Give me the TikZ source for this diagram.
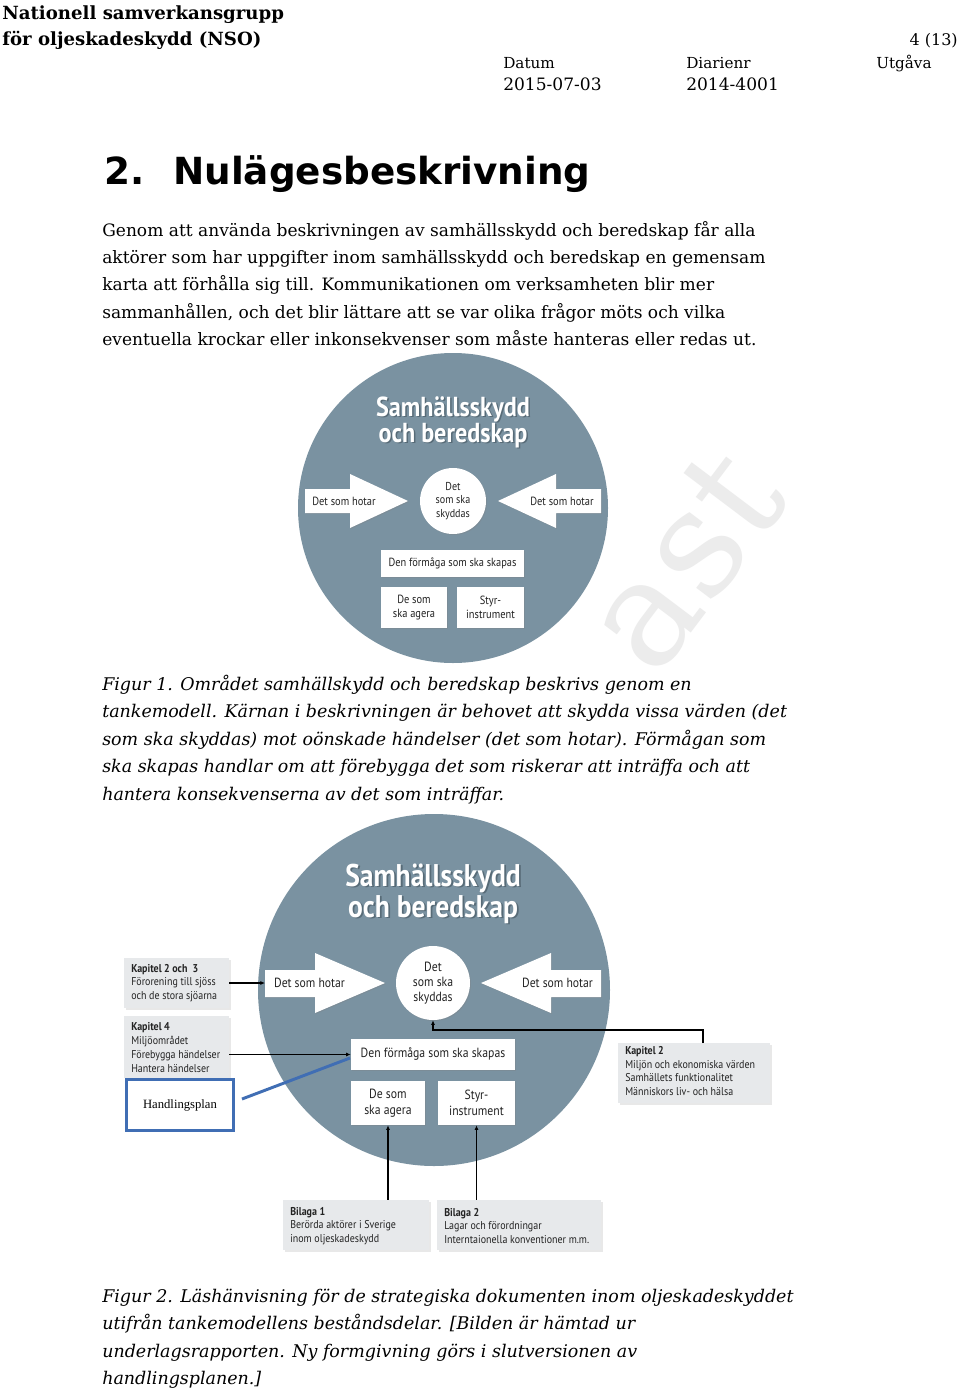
\documentclass[tikz,border=0pt]{standalone}
\usepackage{fontspec}
\setmainfont{DejaVu Serif}
\newfontfamily\hfont{DejaVu Sans}
\newfontfamily\ffont{PT Sans}[FakeStretch=0.88]
\newfontfamily\tfont{Liberation Serif}
\usetikzlibrary{shadows,arrows.meta}
\definecolor{disc}{RGB}{122,146,161}
\definecolor{boxg}{RGB}{231,233,235}
\definecolor{hpblue}{RGB}{64,110,180}
\definecolor{wmark}{RGB}{236,236,236}
\definecolor{ftext}{RGB}{35,35,35}
\definecolor{tshadow}{RGB}{60,75,85}
\newcommand\myfs[2]{\fontsize{#1}{#2}\selectfont}
\begin{document}
\begin{tikzpicture}[x=0.75pt,y=-0.75pt,
  txt/.style={inner sep=0pt,anchor=base west,font=\myfs{12.8}{15}},
  captxt/.style={inner sep=0pt,anchor=base west,font=\myfs{13.1}{15}\itshape},
  wbox/.style={fill=white,inner sep=0pt,align=center,text=ftext,
     drop shadow={shadow xshift=0.7pt,shadow yshift=-0.7pt,opacity=0.3}},
  gbox/.style={fill=boxg,inner sep=0pt,
     drop shadow={shadow xshift=1.2pt,shadow yshift=-1.2pt,opacity=0.18}},
  gtext/.style={inner sep=0pt,anchor=west,align=left,text=ftext,font=\ffont\myfs{8.5}{10.3}},
  blockarrow/.style={fill=white,drop shadow={shadow xshift=0.7pt,shadow yshift=-0.7pt,opacity=0.3}},
  flab/.style={inner sep=0pt,text=ftext},
  conn/.style={draw=black,line width=0.9pt,-{Latex[length=3.5pt,width=3pt]}},
  ttl/.style={inner sep=0pt,anchor=base,text=white},
  ttlsh/.style={inner sep=0pt,anchor=base,text=tshadow,opacity=0.55},
  wmk/.style={inner sep=0pt,text=wmark,rotate=53,font=\myfs{112}{112}},
  disk/.style={circle,fill=disc,inner sep=0pt},
  smallc/.style={circle,fill=white,inner sep=0pt,align=center,text=ftext,
     drop shadow={shadow xshift=0.7pt,shadow yshift=-0.7pt,opacity=0.3}},
]
\fill[white] (0,0) rectangle (960,1391);
\useasboundingbox (0,0) rectangle (960,1391);
% watermark
\node[wmk] (wm) at (684,560) {ast};
% header
\node[txt,font=\myfs{13.6}{16}\bfseries] (h1) at (2,20) {Nationell samverkansgrupp};
\node[txt,font=\myfs{13.6}{16}\bfseries] (h2) at (2,46) {för oljeskadeskydd (NSO)};
\node[txt,anchor=base east,font=\myfs{12}{14}] (pg) at (958,46) {4 (13)};
\node[txt,font=\myfs{11.4}{14}] (d1) at (503,69) {Datum};
\node[txt,font=\myfs{11.4}{14}] (d2) at (686,69) {Diarienr};
\node[txt,font=\myfs{11.4}{14}] (d3) at (876,69) {Utgåva};
\node[txt,font=\myfs{12.8}{14}] (v1) at (503,91) {2015-07-03};
\node[txt,font=\myfs{12.8}{14}] (v2) at (686,91) {2014-4001};
% heading
\node[txt,font=\hfont\bfseries\myfs{28}{32}] (hn) at (104,185) {2.};
\node[txt,font=\hfont\bfseries\myfs{28}{32}] (ht) at (173,185) {Nulägesbeskrivning};
% body
\node[txt] (b1) at (102,236) {Genom att använda beskrivningen av samhällsskydd och beredskap får alla};
\node[txt] (b2) at (102,263) {aktörer som har uppgifter inom samhällsskydd och beredskap en gemensam};
\node[txt] (b3) at (102,290) {karta att förhålla sig till. Kommunikationen om verksamheten blir mer};
\node[txt] (b4) at (102,318) {sammanhållen, och det blir lättare att se var olika frågor möts och vilka};
\node[txt] (b5) at (102,345) {eventuella krockar eller inkonsekvenser som måste hanteras eller redas ut.};

% ---------- Figure 1 ----------
\node[disk,minimum size=232.5pt] (disc1) at (453,508) {};
\node[ttlsh,font=\ffont\bfseries\myfs{20.6}{23}] (t1as) at (454.5,417.5) {Samhällsskydd};
\node[ttlsh,font=\ffont\bfseries\myfs{20.6}{23}] (t1bs) at (454.5,443.5) {och beredskap};
\node[ttl,font=\ffont\bfseries\myfs{20.6}{23}] (t1a) at (453,416) {Samhällsskydd};
\node[ttl,font=\ffont\bfseries\myfs{20.6}{23}] (t1b) at (453,442) {och beredskap};
\fill[blockarrow] (305,489) -- (350,489) -- (350,474) -- (408,501) -- (350,528) -- (350,513) -- (305,513) -- cycle;
\fill[blockarrow] (601,489) -- (556,489) -- (556,474) -- (498,501) -- (556,528) -- (556,513) -- (601,513) -- cycle;
\node[flab,font=\ffont\myfs{8.9}{10}] (la1) at (344,501) {Det som hotar};
\node[flab,font=\ffont\myfs{8.9}{10}] (ra1) at (562,501) {Det som hotar};
\node[smallc,minimum size=49.5pt,font=\ffont\myfs{8.6}{10}] (sk1) at (453,501) {Det\\som ska\\skyddas};
\node[wbox,minimum width=107.25pt,minimum height=20.25pt,font=\ffont\myfs{8.85}{10}] (fo1) at (452.5,563.5) {Den förmåga som ska skapas};
\node[wbox,minimum width=49.5pt,minimum height=30.75pt,font=\ffont\myfs{8.9}{10.5}] (ag1) at (414,607.5) {De som\\ska agera};
\node[wbox,minimum width=50.25pt,minimum height=30.75pt,font=\ffont\myfs{8.9}{10.5}] (st1) at (490.5,607.5) {Styr-\\instrument};

% caption 1
\node[captxt] (c11) at (102,690) {Figur 1. Området samhällskydd och beredskap beskrivs genom en};
\node[captxt] (c12) at (102,717) {tankemodell. Kärnan i beskrivningen är behovet att skydda vissa värden (det};
\node[captxt] (c13) at (102,745) {som ska skyddas) mot oönskade händelser (det som hotar). Förmågan som};
\node[captxt] (c14) at (102,772) {ska skapas handlar om att förebygga det som riskerar att inträffa och att};
\node[captxt] (c15) at (102,800) {hantera konsekvenserna av det som inträffar.};

% ---------- Figure 2 ----------
\node[disk,minimum size=264pt] (disc2) at (434,990) {};
\node[ttlsh,font=\ffont\bfseries\myfs{23.5}{26}] (t2as) at (434.8,887.8) {Samhällsskydd};
\node[ttlsh,font=\ffont\bfseries\myfs{23.5}{26}] (t2bs) at (434.8,918.8) {och beredskap};
\node[ttl,font=\ffont\bfseries\myfs{23.5}{26}] (t2a) at (433,886) {Samhällsskydd};
\node[ttl,font=\ffont\bfseries\myfs{23.5}{26}] (t2b) at (433,917) {och beredskap};
\fill[blockarrow] (265,970) -- (315,970) -- (315,953) -- (385,983) -- (315,1013) -- (315,997) -- (265,997) -- cycle;
\fill[blockarrow] (601,970) -- (551,970) -- (551,953) -- (481,983) -- (551,1013) -- (551,997) -- (601,997) -- cycle;
\coordinate (lt2) at (265,983);
\node[flab,font=\ffont\myfs{9.95}{11}] (la2) at (309.5,983) {Det som hotar};
\node[flab,font=\ffont\myfs{9.95}{11}] (ra2) at (557.5,983) {Det som hotar};
\node[smallc,minimum size=55.5pt,font=\ffont\myfs{10}{11.25}] (sk2) at (433,983) {Det\\som ska\\skyddas};
\node[wbox,minimum width=123pt,minimum height=23.25pt,font=\ffont\myfs{10}{11}] (fo2) at (433,1054.5) {Den förmåga som ska skapas};
\node[wbox,minimum width=55.5pt,minimum height=33pt,font=\ffont\myfs{10}{12}] (ag2) at (388,1103) {De som\\ska agera};
\node[wbox,minimum width=57.75pt,minimum height=33pt,font=\ffont\myfs{10}{12}] (st2) at (476.5,1103) {Styr-\\instrument};

% info boxes
\node[gbox,minimum width=78.75pt,minimum height=37.5pt] (k23) at (176.5,983) {};
\node[gtext] (k23t) at (131,983) {\textbf{Kapitel 2 och\ \ 3}\\Förorening till sjöss\\och de stora sjöarna};
\node[gbox,minimum width=78.75pt,minimum height=46.5pt] (k4) at (176.5,1047) {};
\node[gtext] (k4t) at (131,1047.5) {\textbf{Kapitel 4}\\Miljöområdet\\Förebygga händelser\\Hantera händelser};
\node[draw=hpblue,line width=2.2pt,fill=white,inner sep=0pt,minimum width=80pt,minimum height=38.5pt,
  font=\tfont\myfs{9.5}{11}] (hp) at (180,1105) {Handlingsplan};
\node[gbox,minimum width=114pt,minimum height=45pt] (k2) at (694,1073) {};
\node[gtext] (k2t) at (625,1071) {\textbf{Kapitel 2}\\Miljön och ekonomiska värden\\Samhällets funktionalitet\\Människors liv- och hälsa};
\node[gbox,minimum width=109.5pt,minimum height=37.5pt] (bl1) at (356,1225) {};
\node[gtext] (bl1t) at (290,1226) {\textbf{Bilaga 1}\\Berörda aktörer i Sverige\\inom oljeskadeskydd};
\node[gbox,minimum width=123pt,minimum height=37.5pt] (bl2) at (519,1225) {};
\node[gtext] (bl2t) at (444,1226) {\textbf{Bilaga 2}\\Lagar och förordningar\\Interntaionella konventioner m.m.};

% connectors
\draw[conn] (k23.east) -- (lt2);
\draw[conn] (k4.east |- fo2.west) -- (fo2.west);
\coordinate (hpa) at (242,1099);
\coordinate (hpb) at (350,1058);
\draw[hpblue,line width=2.2pt] (hpa) -- (hpb);
\coordinate (k2top) at (703,1043);
\coordinate (k2bend) at (703,1030);
\draw[conn] (k2top) -- (k2bend) -| (sk2.south);
\draw[conn] (ag2.south |- bl1.north) -- (ag2.south);
\draw[conn] (st2.south |- bl2.north) -- (st2.south);

% caption 2
\node[captxt] (c21) at (102,1302) {Figur 2. Läshänvisning för de strategiska dokumenten inom oljeskadeskyddet};
\node[captxt] (c22) at (102,1329) {utifrån tankemodellens beståndsdelar. [Bilden är hämtad ur};
\node[captxt] (c23) at (102,1357) {underlagsrapporten. Ny formgivning görs i slutversionen av};
\node[captxt] (c24) at (102,1384) {handlingsplanen.]};
\end{tikzpicture}
\end{document}
